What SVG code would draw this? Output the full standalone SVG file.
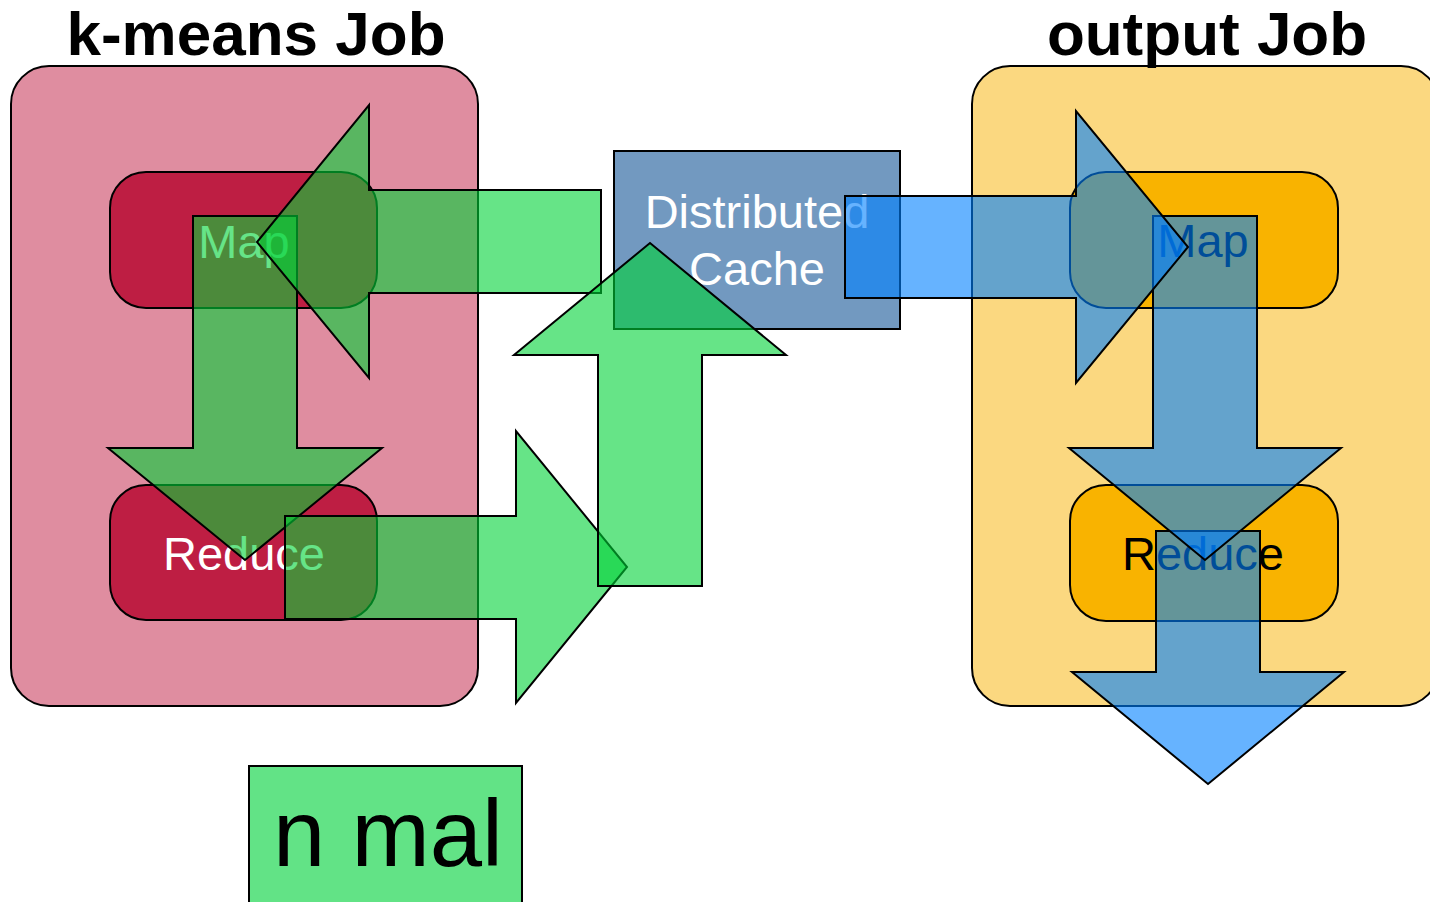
<svg xmlns="http://www.w3.org/2000/svg" width="1430" height="902" viewBox="0 0 1430 902">
  <style>
    .title { font-family: "Liberation Sans", Arial, sans-serif; font-weight: bold; font-size: 62px; fill: #000; text-anchor: middle; }
    .lbl { font-family: "Liberation Sans", Arial, sans-serif; font-size: 47px; text-anchor: middle; }
    .box { stroke: #000; stroke-width: 2; }
    .arrow { stroke: #000; stroke-width: 2; fill-opacity: 0.6; }
    .green { fill: #00D237; }
    .blue { fill: #0080FF; }
  </style>
  <rect width="1430" height="902" fill="#fff"/>

  <!-- job containers -->
  <g id="kmeans-job">
    <rect class="box" x="11" y="66" width="467" height="640" rx="38" fill="#DF8DA0"/>
    <text class="title" x="256" y="55">k-means Job</text>
  </g>
  <g id="output-job">
    <rect class="box" x="972" y="66" width="467" height="640" rx="38" fill="#FBD880"/>
    <text class="title" x="1207" y="55">output Job</text>
  </g>

  <!-- k-means job stages -->
  <g id="km-map">
    <rect class="box" x="110" y="172" width="267" height="136" rx="36" fill="#BE1E43"/>
    <text class="lbl" x="244" y="258" fill="#fff">Map</text>
  </g>
  <g id="km-reduce">
    <rect class="box" x="110" y="485" width="267" height="135" rx="36" fill="#BE1E43"/>
    <text class="lbl" x="244" y="570" fill="#fff">Reduce</text>
  </g>

  <!-- shared cache -->
  <g id="dist-cache">
    <rect class="box" x="614" y="151" width="286" height="178" fill="#7299C0"/>
    <text class="lbl" x="757" y="228" fill="#fff">Distributed</text>
    <text class="lbl" x="757" y="285" fill="#fff">Cache</text>
  </g>

  <!-- output job stages -->
  <g id="out-map">
    <rect class="box" x="1070" y="172" width="268" height="136" rx="36" fill="#F9B300"/>
    <text class="lbl" x="1203" y="257" fill="#000">Map</text>
  </g>
  <g id="out-reduce">
    <rect class="box" x="1070" y="485" width="268" height="136" rx="36" fill="#F9B300"/>
    <text class="lbl" x="1203" y="570" fill="#000">Reduce</text>
  </g>

  <!-- block arrows (translucent) -->
  <g id="connectors">
    <polygon class="arrow green" points="193,216 297,216 297,448 382,448 245,560 108,448 193,448"/>
    <polygon class="arrow green" points="601,190 369,190 369,105 257,242 369,378 369,293 601,293"/>
    <polygon class="arrow green" points="285,516 516,516 516,431 627,567 516,703 516,619 285,619"/>
    <polygon class="arrow green" points="598,586 598,355 514,355 650,243 786,355 702,355 702,586"/>
    <polygon class="arrow blue" points="1156,531 1260,531 1260,672 1344,672 1208,784 1072,672 1156,672"/>
    <polygon class="arrow blue" points="1153,216 1257,216 1257,448 1341,448 1205,560 1069,448 1153,448"/>
    <polygon class="arrow blue" points="845,196 1076,196 1076,111 1188,247 1076,383 1076,298 845,298"/>
  </g>

  <!-- legend -->
  <g id="legend-normal">
    <rect class="box" x="249" y="766" width="273" height="145" fill="#62E386"/>
    <text x="388" y="866" font-family="'Liberation Sans', Arial, sans-serif" font-size="94" text-anchor="middle" fill="#000">n mal</text>
  </g>
</svg>
